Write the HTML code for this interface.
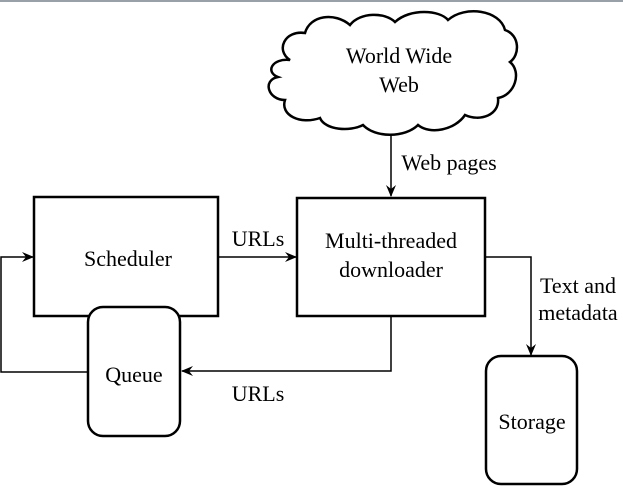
<!DOCTYPE html>
<html><head><style>body{margin:0;background:#fff}svg{display:block}</style></head><body>
<svg width="623" height="488" xmlns="http://www.w3.org/2000/svg" font-family="Liberation Serif, serif" font-size="22" fill="#000">
<defs><marker id="a" markerWidth="12" markerHeight="10" refX="11" refY="5" orient="auto" markerUnits="userSpaceOnUse"><path d="M0,0 L12,5 L0,10 L4,5 Z" fill="#000"/></marker></defs>
<rect x="0" y="0" width="623" height="2" fill="#9aa0a8"/>
<g fill="#fff" stroke="#000" stroke-width="2.5">
<path d="M290,60 C275,50 285,30 305,33 C310,15 335,12 350,25 C360,12 385,12 395,22 C410,8 440,10 448,20 C465,5 500,10 505,30 C520,35 520,55 510,62 C522,72 515,95 498,98 C500,115 480,122 465,115 C455,130 430,135 418,125 C405,138 375,138 363,125 C350,132 325,130 320,118 C300,125 280,115 285,100 C268,100 262,80 278,77 C265,72 272,58 290,60 Z"/>
<rect x="34" y="197" width="184" height="119"/>
<rect x="297" y="198" width="188" height="118"/>
<rect x="88" y="307" width="92" height="129" rx="15"/>
<rect x="486" y="356" width="91" height="128" rx="15"/>
</g>
<g fill="none" stroke="#000" stroke-width="1.5">
<line x1="391" y1="135" x2="391" y2="196" marker-end="url(#a)"/>
<line x1="218" y1="257" x2="296" y2="257" marker-end="url(#a)"/>
<polyline points="486,257 531,257 531,355" marker-end="url(#a)"/>
<polyline points="391,316 391,371 182,371" marker-end="url(#a)"/>
<polyline points="88,372 1,372 1,257 33,257" marker-end="url(#a)"/>
</g>
<g text-anchor="middle">
<text x="399" y="63">World Wide</text>
<text x="399" y="92">Web</text>
<text x="128" y="266">Scheduler</text>
<text x="391" y="248">Multi-threaded</text>
<text x="391" y="277">downloader</text>
<text x="134" y="382">Queue</text>
<text x="532" y="429">Storage</text>
<text x="258" y="246">URLs</text>
<text x="258" y="401">URLs</text>
<text x="449" y="170">Web pages</text>
<text x="578" y="293">Text and</text>
<text x="578" y="320">metadata</text>
</g>
</svg>
</body></html>
